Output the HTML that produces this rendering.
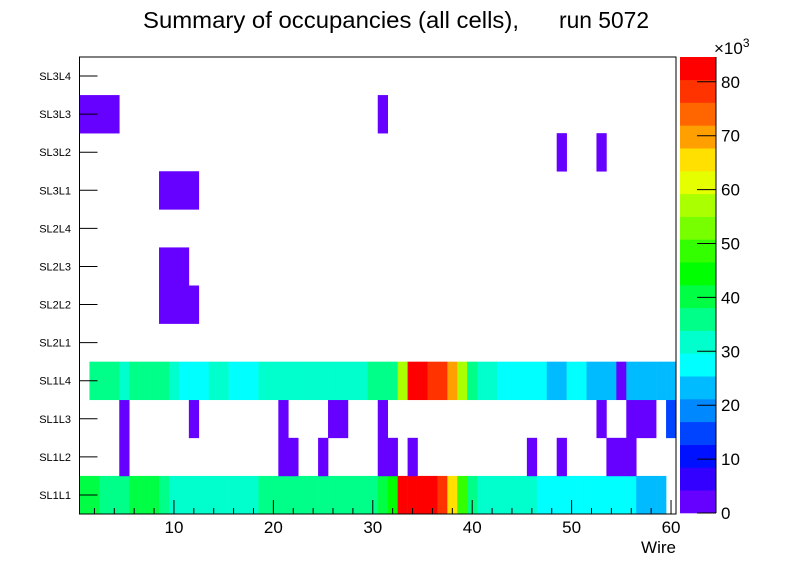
<!DOCTYPE html>
<html><head><meta charset="utf-8">
<style>
html,body{margin:0;padding:0;background:#fff;}
svg{display:block;font-family:"Liberation Sans",Arial,sans-serif;}
</style></head>
<body>
<svg id="chart" width="796" height="572" viewBox="0 0 796 572">
<g>
<text x="143" y="28" font-size="23.5" textLength="376" lengthAdjust="spacingAndGlyphs">Summary of occupancies (all cells),</text>
<text x="559" y="28" font-size="23.5" textLength="90" lengthAdjust="spacingAndGlyphs">run 5072</text>
</g>
<g id="cells"></g>
<g id="axes"></g>
<g id="cbar"></g>
</svg>
<script>
const rowLabels = ["SL1L1","SL1L2","SL1L3","SL1L4","SL2L1","SL2L2","SL2L3","SL2L4","SL3L1","SL3L2","SL3L3","SL3L4"];
const SL1L1 = [40,40,36,36,36,41,41,41,36,32,32,32,32,32,32,32,32,32,36,36,36,36,36,36,36,36,36,36,36,36,40,45,82,82,82,82,78,66,49,36,32,32,32,32,32,32,28,28,28,28,28,28,28,28,28,28,23,23,23,0];
const SL1L2 = [0,0,0,0,2,0,0,0,0,0,0,0,0,0,0,0,0,0,0,0,2,2,0,0,2,0,0,0,0,0,2,2,0,2,0,0,0,0,0,0,0,0,0,0,0,2,0,0,2,0,0,0,0,2,2,2,0,0,0,0];
const SL1L3 = [0,0,0,0,2,0,0,0,0,0,0,2,0,0,0,0,0,0,0,0,2,0,0,0,0,2,2,0,0,0,2,0,0,0,0,0,0,0,0,0,0,0,0,0,0,0,0,0,0,0,0,0,2,0,0,2,2,2,0,15];
const SL1L4 = [0,36,36,36,32,36,36,36,36,32,28,28,28,32,32,28,28,28,32,32,32,32,32,32,32,32,32,32,32,36,36,36,57,82,82,78,78,70,57,36,32,32,28,28,28,28,28,23,23,28,28,23,23,23,2,23,23,23,23,23];
const SL2L1 = new Array(60).fill(0);
const SL2L2 = [0,0,0,0,0,0,0,0,2,2,2,2,0,0,0,0,0,0,0,0,0,0,0,0,0,0,0,0,0,0,0,0,0,0,0,0,0,0,0,0,0,0,0,0,0,0,0,0,0,0,0,0,0,0,0,0,0,0,0,0];
const SL2L3 = [0,0,0,0,0,0,0,0,2,2,2,0,0,0,0,0,0,0,0,0,0,0,0,0,0,0,0,0,0,0,0,0,0,0,0,0,0,0,0,0,0,0,0,0,0,0,0,0,0,0,0,0,0,0,0,0,0,0,0,0];
const SL2L4 = new Array(60).fill(0);
const SL3L1 = [0,0,0,0,0,0,0,0,2,2,2,2,0,0,0,0,0,0,0,0,0,0,0,0,0,0,0,0,0,0,0,0,0,0,0,0,0,0,0,0,0,0,0,0,0,0,0,0,0,0,0,0,0,0,0,0,0,0,0,0];
const SL3L2 = [0,0,0,0,0,0,0,0,0,0,0,0,0,0,0,0,0,0,0,0,0,0,0,0,0,0,0,0,0,0,0,0,0,0,0,0,0,0,0,0,0,0,0,0,0,0,0,0,2,0,0,0,2,0,0,0,0,0,0,0];
const SL3L3 = [2,2,2,2,0,0,0,0,0,0,0,0,0,0,0,0,0,0,0,0,0,0,0,0,0,0,0,0,0,0,2,0,0,0,0,0,0,0,0,0,0,0,0,0,0,0,0,0,0,0,0,0,0,0,0,0,0,0,0,0];
const SL3L4 = new Array(60).fill(0);
const rows = [SL1L1,SL1L2,SL1L3,SL1L4,SL2L1,SL2L2,SL2L3,SL2L4,SL3L1,SL3L2,SL3L3,SL3L4];
const xTicks = [10,20,30,40,50,60];
const zTicks = [0,10,20,30,40,50,60,70,80];
const zMax = 84.6;

const palette = ["#6600ff","#3300ff","#0011ff","#0044ff","#0088ff","#00bbff","#00ffff","#00ffcc","#00ff88","#00ff44","#00ff00","#33ff00","#77ff00","#aaff00","#e5ff00","#ffe000","#ffa000","#ff6600","#ff3300","#ff0000"];
const NS="http://www.w3.org/2000/svg";
const X0=79.5,X1=676,Y0=57,Y1=514, XMIN=0.5, XMAX=60.5;
const xs = w => X0+(w-XMIN)/(XMAX-XMIN)*(X1-X0);
const rowH=(Y1-Y0)/rows.length;
const ys = r => Y1-(r+1)*rowH;
const CB0=680,CB1=716,CBY0=57,CBY1=513;
const zs = v => CBY1-v/zMax*(CBY1-CBY0);
function colorOf(v){let b=Math.floor(v/zMax*20);b=Math.max(0,Math.min(19,b));return palette[b];}
function mk(tag,attrs,parent){const e=document.createElementNS(NS,tag);for(const k in attrs)e.setAttribute(k,attrs[k]);parent.appendChild(e);return e;}

const cells=document.getElementById('cells');
rows.forEach((arr,r)=>{
  arr.forEach((v,i)=>{
    if(v<=0)return;
    const w=i+1;
    const x=xs(w-0.5), x2=xs(w+0.5);
    const e=mk('rect',{x:x.toFixed(2),y:ys(r).toFixed(2),width:(x2-x+0.3).toFixed(2),height:(rowH+0.3).toFixed(2),fill:colorOf(v)},cells);
    
    
  });
});

const axes=document.getElementById('axes');
const fr=mk('rect',{x:X0,y:Y0,width:X1-X0,height:Y1-Y0,fill:'none',stroke:'#000','stroke-width':1},axes);


rowLabels.forEach((lab,r)=>{
  const yc=ys(r)+rowH/2;
  mk('line',{x1:X0,x2:X0+18,y1:yc,y2:yc,stroke:'#000','stroke-width':1},axes);
  const t=mk('text',{x:71,y:yc+4,'text-anchor':'end','font-size':11},axes);
  t.textContent=lab;
  
  
});
for(let w=2;w<=60;w+=2){
  const major=(w%10===0);
  mk('line',{x1:xs(w),x2:xs(w),y1:Y1,y2:Y1-(major?14:6),stroke:'#000','stroke-width':1},axes);
}
xTicks.forEach(v=>{
  const t=mk('text',{x:xs(v),y:533,'text-anchor':'middle','font-size':17},axes);
  t.textContent=v;
  
  
});
const xt=mk('text',{x:676,y:553,'text-anchor':'end','font-size':17},axes);
xt.textContent='Wire';



const cb=document.getElementById('cbar');
for(let b=0;b<20;b++){
  const v0=b*zMax/20,v1=(b+1)*zMax/20;
  const r=mk('rect',{x:CB0,y:zs(v1).toFixed(2),width:CB1-CB0,height:(zs(v0)-zs(v1)+0.3).toFixed(2),fill:palette[b]},cb);
  
  
}
mk('line',{x1:CB1,x2:CB1,y1:CBY0,y2:CBY1,stroke:'#000','stroke-width':1},cb);
zTicks.forEach(v=>{
  mk('line',{x1:CB1-19,x2:CB1,y1:zs(v),y2:zs(v),stroke:'#000','stroke-width':1},cb);
  const t=mk('text',{x:CB1+5,y:zs(v)+6,'font-size':17},cb);
  t.textContent=v;
  
  
});
const ex=mk('text',{x:714,y:54,'font-size':17},cb);
ex.innerHTML='×10<tspan dy="-7" font-size="12">3</tspan>';


</script>
</body></html>
